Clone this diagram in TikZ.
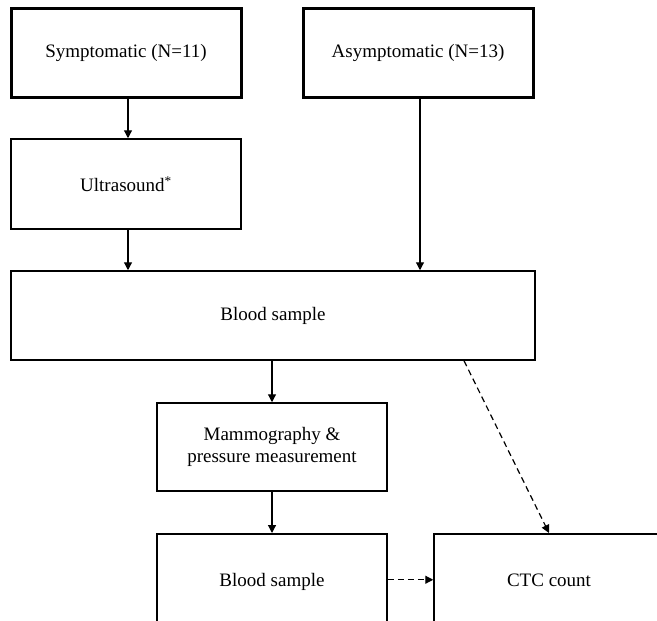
\documentclass[tikz,border=0pt]{standalone}
\usepackage{fontspec}
\setmainfont{Liberation Serif}
\usetikzlibrary{arrows.meta,calc}
\begin{document}
\begin{tikzpicture}[x=1pt,y=-1pt,
  box/.style={draw=black, line width=1.5pt, inner sep=0pt, font=\fontsize{19}{22}\selectfont, text=black},
  topbox/.style={box, line width=3pt, minimum width=230pt, minimum height=89pt},
  cutbox/.style={box, anchor=north, text height=47pt, text depth=60pt, inner ysep=6pt, minimum width=230pt},
  arr/.style={draw=black, line width=1.2pt, -{Triangle[length=8pt,width=8pt]}},
  darr/.style={arr, dash pattern=on 6pt off 4pt}]
\useasboundingbox (0,0) rectangle (657,621);
\clip (0,0) rectangle (657,621);
\node[topbox] (sym) at (126,52.5) {Symptomatic (N=11)};
\node[topbox] (asym) at (418,52.5) {Asymptomatic (N=13)};
\node[box, minimum width=230pt, minimum height=90pt] (us) at (126,184) {Ultrasound\textsuperscript{*}};
\node[box, minimum width=524pt, minimum height=89pt] (blood1) at (273,315.5) {Blood sample};
\node[box, minimum width=230pt, minimum height=88pt, align=center] (mammo) at (272,447) {Mammography \&\\pressure measurement};
\node[cutbox] (blood2) at (272,533) {Blood sample};
\node[cutbox] (ctc) at (549,533) {CTC count};
\draw[arr] ([xshift=2pt]sym.south) -- ([xshift=2pt]us.north);
\draw[arr] ([xshift=2pt]us.south) -- ([xshift=2pt]us.south |- blood1.north);
\draw[arr] ([xshift=2pt]asym.south) -- ([xshift=2pt]asym.south |- blood1.north);
\draw[arr] (mammo.north |- blood1.south) -- (mammo.north);
\draw[arr] (mammo.south) -- (blood2.north);
\draw[darr] ([xshift=191pt]blood1.south) -- (ctc.north);
\draw[darr] ([yshift=7pt]blood2.base east) -- ([yshift=7pt]ctc.base west);
\end{tikzpicture}
\end{document}
